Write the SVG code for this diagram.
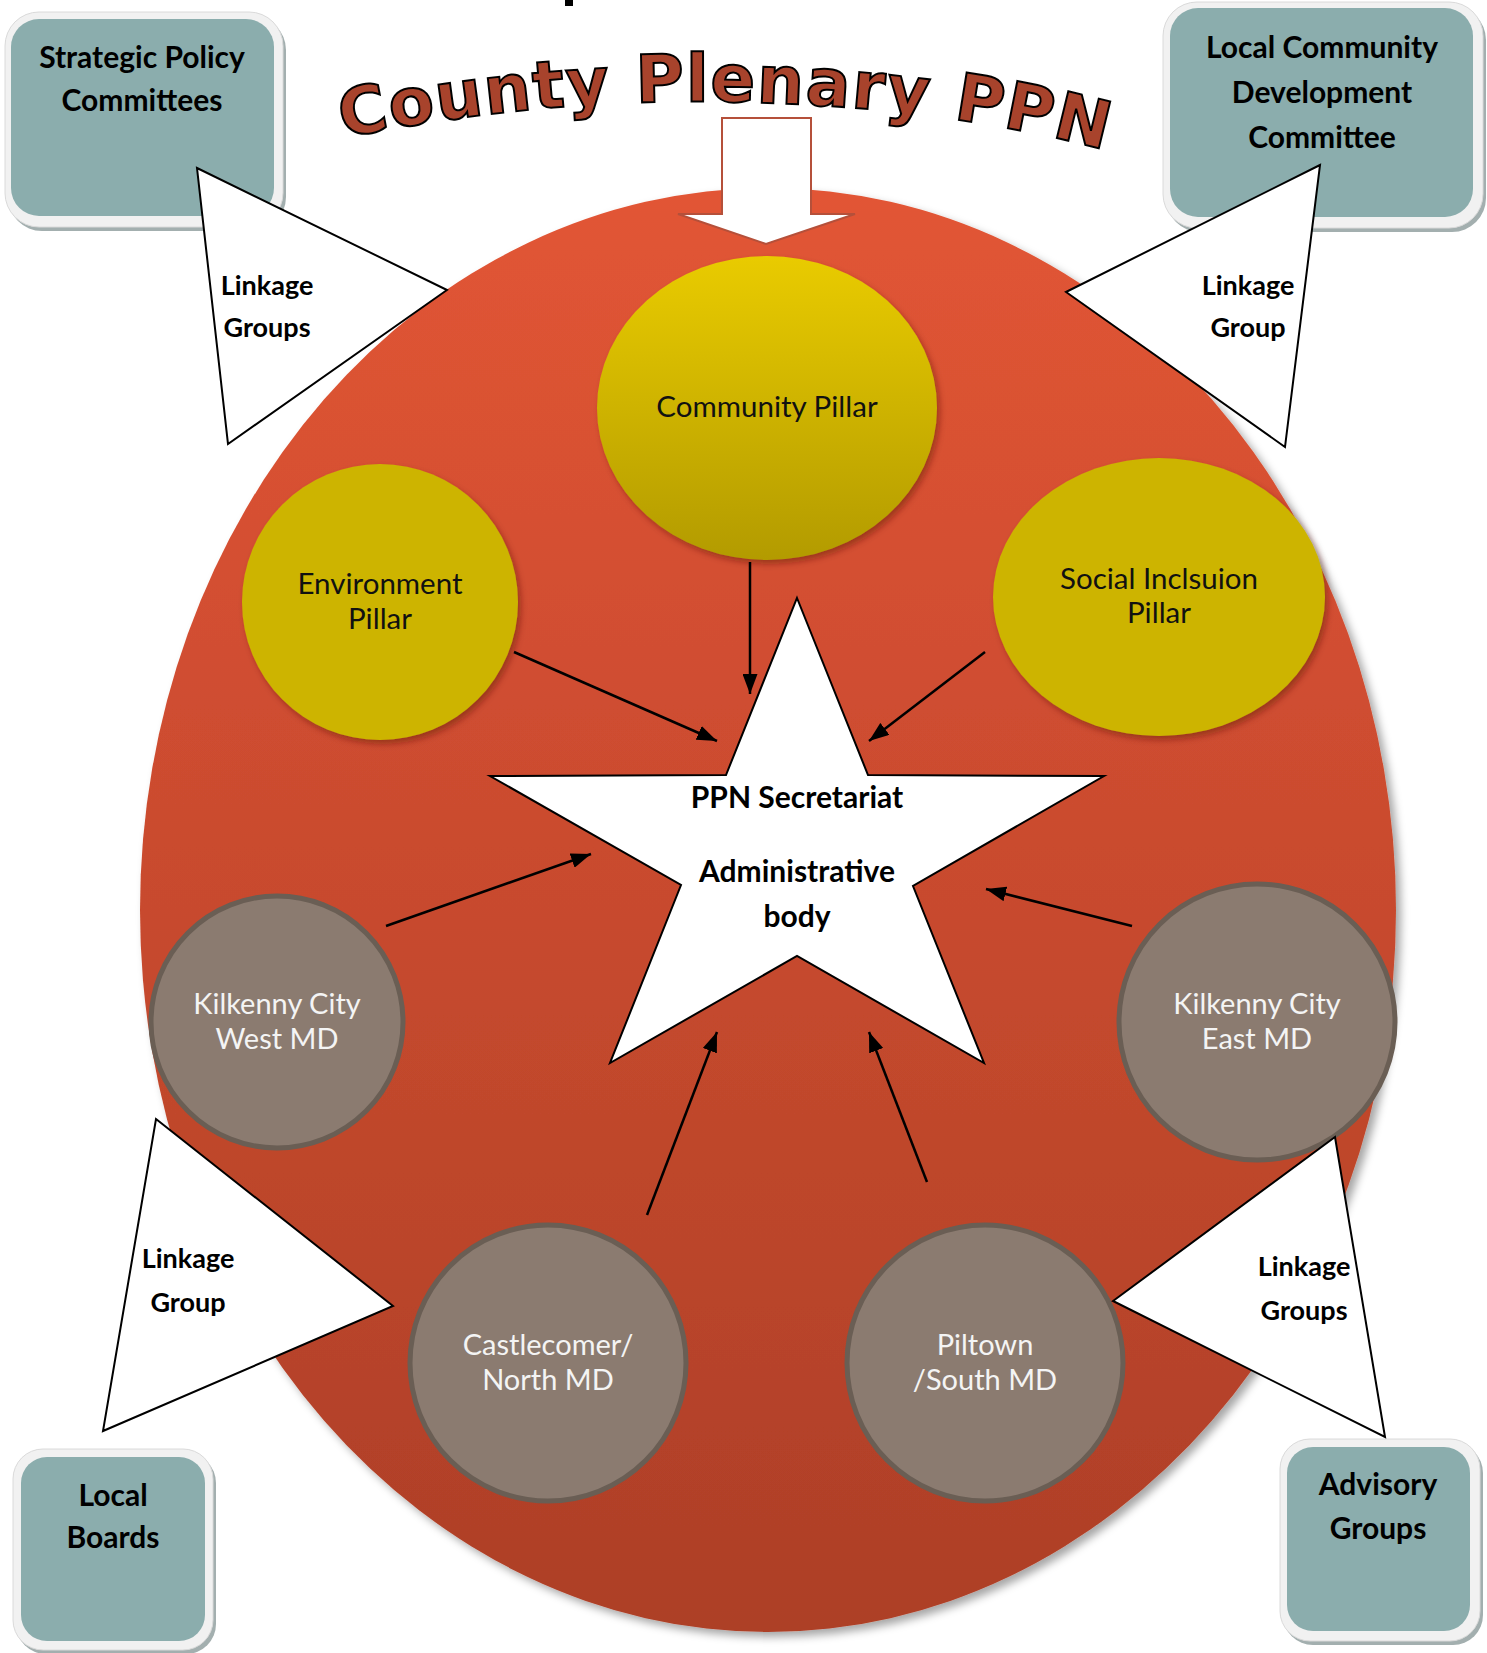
<svg xmlns="http://www.w3.org/2000/svg" width="1487" height="1653" viewBox="0 0 1487 1653">
<defs>
  <linearGradient id="gBig" x1="0" y1="0" x2="0" y2="1">
    <stop offset="0" stop-color="#E25535"/>
    <stop offset="1" stop-color="#AD3F27"/>
  </linearGradient>
  <linearGradient id="gComm" x1="0" y1="0" x2="0" y2="1">
    <stop offset="0" stop-color="#E9CB00"/>
    <stop offset="1" stop-color="#B39B00"/>
  </linearGradient>
  <filter id="shBig" x="-10%" y="-10%" width="125%" height="125%">
    <feDropShadow dx="5" dy="5" stdDeviation="4" flood-color="#000" flood-opacity="0.35"/>
  </filter>
  <filter id="shPill" x="-10%" y="-10%" width="125%" height="125%">
    <feDropShadow dx="3" dy="4" stdDeviation="3" flood-color="#5a1a0a" flood-opacity="0.45"/>
  </filter>
  <marker id="ah" viewBox="0 0 10 10" refX="10" refY="5" markerWidth="8" markerHeight="6" markerUnits="strokeWidth" orient="auto" preserveAspectRatio="none">
    <path d="M0,0 L10,5 L0,10 z" fill="#000"/>
  </marker>
  <path id="titleArc" d="M 343 138 Q 560 94 770 103 Q 960 110 1112 152"/>
</defs>
<style>
  .lbl { font-family: Lato, "Open Sans", "Liberation Sans", sans-serif; text-anchor: middle; }
  .b { font-weight: bold; font-size: 30px; fill: #000; }
  .t { font-weight: bold; font-size: 27px; fill: #000; }
  .r { font-size: 29.5px; fill: #111; }
  .w { font-size: 29px; fill: #F4F4F4; }
  .boxsh { fill: #A3AFAF; }
  .boxout { fill: #F1F1F1; stroke: #DADADA; stroke-width: 1; }
  .boxin { fill: #8BADAD; }
  .tri { fill: #FFFFFF; stroke: #000; stroke-width: 2; stroke-linejoin: miter; }
  .md { fill: #8B7B70; stroke: #6A5E54; stroke-width: 5; }
  .conn line { stroke: #000; stroke-width: 2.5; marker-end: url(#ah); }
</style>
<rect width="1487" height="1653" fill="#FFFFFF"/>

<!-- cropped fragment at top -->
<rect x="565" y="0" width="8" height="6" fill="#000"/>

<!-- big ellipse -->
<g id="plenary-area">
  <ellipse cx="768" cy="910" rx="628" ry="722" fill="url(#gBig)" filter="url(#shBig)"/>
</g>

<!-- boxes -->
<g id="box-spc">
  <rect class="boxsh" x="8" y="16" width="278" height="215" rx="34"/>
  <rect class="boxout" x="5" y="12" width="278" height="215" rx="34"/>
  <rect class="boxin" x="11" y="19" width="263" height="197" rx="28"/>
  <text class="lbl b" x="142" y="68">Strategic Policy</text>
  <text class="lbl b" x="142" y="111">Committees</text>
</g>
<g id="box-lcdc">
  <rect class="boxsh" x="1166" y="6" width="320" height="226" rx="34"/>
  <rect class="boxout" x="1163" y="2" width="320" height="226" rx="34"/>
  <rect class="boxin" x="1170" y="8" width="303" height="209" rx="28"/>
  <text class="lbl b" x="1322" y="58">Local Community</text>
  <text class="lbl b" x="1322" y="103">Development</text>
  <text class="lbl b" x="1322" y="148">Committee</text>
</g>
<g id="box-lb">
  <rect class="boxsh" x="16" y="1453" width="200" height="201" rx="30"/>
  <rect class="boxout" x="13" y="1449" width="200" height="201" rx="30"/>
  <rect class="boxin" x="21" y="1457" width="184" height="184" rx="26"/>
  <text class="lbl b" x="113" y="1506">Local</text>
  <text class="lbl b" x="113" y="1548">Boards</text>
</g>
<g id="box-ag">
  <rect class="boxsh" x="1283" y="1443" width="200" height="202" rx="30"/>
  <rect class="boxout" x="1280" y="1439" width="200" height="202" rx="30"/>
  <rect class="boxin" x="1287" y="1447" width="183" height="184" rx="26"/>
  <text class="lbl b" x="1378" y="1495">Advisory</text>
  <text class="lbl b" x="1378" y="1539">Groups</text>
</g>

<!-- block arrow from plenary -->
<g id="plenary-arrow">
  <polygon points="722,118 811,118 811,214 855,214 766,244 678,214 722,214" fill="#FFFFFF" stroke="#B5503A" stroke-width="2"/>
</g>

<!-- pillars -->
<g id="community-pillar">
  <ellipse cx="767" cy="408" rx="170" ry="152" fill="url(#gComm)" filter="url(#shPill)"/>
  <text class="lbl r" x="767" y="417">Community Pillar</text>
</g>
<g id="environment-pillar">
  <ellipse cx="380" cy="602" rx="138" ry="138" fill="#CDB400" filter="url(#shPill)"/>
  <text class="lbl r" x="380" y="594">Environment</text>
  <text class="lbl r" x="380" y="629">Pillar</text>
</g>
<g id="social-pillar">
  <ellipse cx="1159" cy="597" rx="166" ry="139" fill="#CDB400" filter="url(#shPill)"/>
  <text class="lbl r" x="1159" y="589">Social Inclsuion</text>
  <text class="lbl r" x="1159" y="623">Pillar</text>
</g>

<!-- municipal districts -->
<g id="west-md">
  <circle class="md" cx="277" cy="1022" r="126"/>
  <text class="lbl w" x="277" y="1014">Kilkenny City</text>
  <text class="lbl w" x="277" y="1049">West MD</text>
</g>
<g id="east-md">
  <circle class="md" cx="1257" cy="1022" r="138"/>
  <text class="lbl w" x="1257" y="1014">Kilkenny City</text>
  <text class="lbl w" x="1257" y="1049">East MD</text>
</g>
<g id="castlecomer-md">
  <circle class="md" cx="548" cy="1363" r="138"/>
  <text class="lbl w" x="548" y="1355">Castlecomer/</text>
  <text class="lbl w" x="548" y="1390">North MD</text>
</g>
<g id="piltown-md">
  <circle class="md" cx="985" cy="1363" r="138"/>
  <text class="lbl w" x="985" y="1355">Piltown</text>
  <text class="lbl w" x="985" y="1390">/South MD</text>
</g>

<!-- secretariat star -->
<g id="secretariat">
  <polygon points="797,598 868,775 1104,776 913,886 984,1063 797,956 610,1063 681,885 490,776 726,775" fill="#FFFFFF" stroke="#000" stroke-width="2"/>
  <text class="lbl b" x="797" y="808">PPN Secretariat</text>
  <text class="lbl b" x="797" y="882">Administrative</text>
  <text class="lbl b" x="797" y="927">body</text>
</g>

<!-- connectors -->
<g id="connectors" class="conn">
  <line x1="750" y1="562" x2="750" y2="694"/>
  <line x1="514" y1="652" x2="717" y2="741"/>
  <line x1="985" y1="652" x2="869" y2="741"/>
  <line x1="386" y1="926" x2="591" y2="854"/>
  <line x1="1132" y1="926" x2="986" y2="889"/>
  <line x1="647" y1="1215" x2="717" y2="1032"/>
  <line x1="927" y1="1182" x2="869" y2="1032"/>
</g>

<!-- linkage triangles -->
<g id="linkage-tl">
  <polygon class="tri" points="197,168 447,290 228,444"/>
  <text class="lbl t" x="267" y="295">Linkage</text>
  <text class="lbl t" x="267" y="337">Groups</text>
</g>
<g id="linkage-tr">
  <polygon class="tri" points="1320,165 1066,292 1285,447"/>
  <text class="lbl t" x="1248" y="295">Linkage</text>
  <text class="lbl t" x="1248" y="337">Group</text>
</g>
<g id="linkage-bl">
  <polygon class="tri" points="156,1119 393,1306 103,1431"/>
  <text class="lbl t" x="188" y="1268">Linkage</text>
  <text class="lbl t" x="188" y="1312">Group</text>
</g>
<g id="linkage-br">
  <polygon class="tri" points="1335,1137 1113,1301 1385,1437"/>
  <text class="lbl t" x="1304" y="1276">Linkage</text>
  <text class="lbl t" x="1304" y="1320">Groups</text>
</g>

<!-- title -->
<g id="title">
  <text font-family="'DejaVu Sans', Verdana, sans-serif" font-weight="bold" font-size="66" fill="#A8432C" stroke="#000" stroke-width="2" textLength="768" lengthAdjust="spacing"><textPath href="#titleArc">County Plenary PPN</textPath></text>
</g>
</svg>
